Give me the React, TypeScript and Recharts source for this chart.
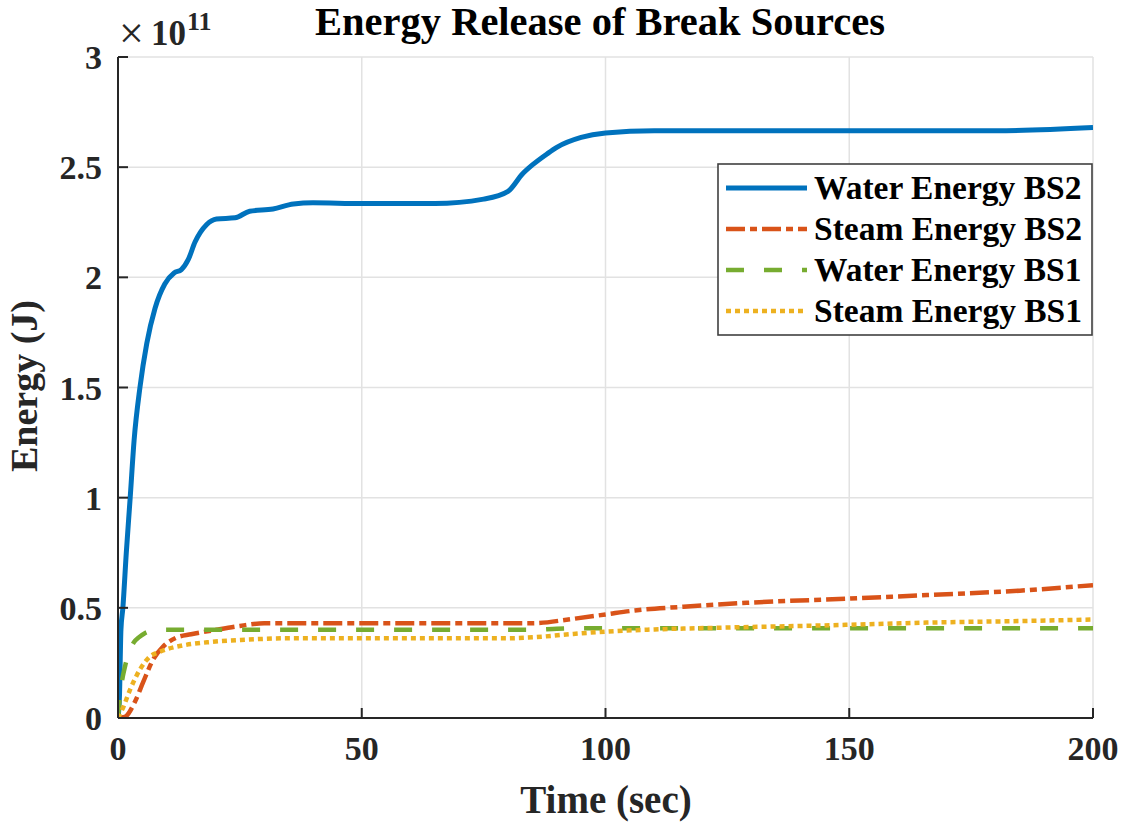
import React from 'react';
import { LineChart, Line, XAxis, YAxis, CartesianGrid, Legend } from 'recharts';

const FONT = '"Liberation Serif", "Times New Roman", Times, serif';
const INK = '#262626';

// Time (sec) and energy (x 1e11 J) for each series
const waterBS2Time = [0, 0.3, 0.6, 1, 1.7, 2.5, 3.3, 4.5, 5.9, 7.6, 9.6, 11.5, 13, 14.4, 15.8, 18.2, 20.2, 24, 27, 31.8, 36, 40, 50, 65, 75, 80, 83, 85, 88, 90, 95, 100, 110, 180, 200];
const waterBS2Energy = [0, 0.1, 0.4, 0.5, 0.75, 1.0, 1.26, 1.5, 1.7, 1.86, 1.97, 2.02, 2.035, 2.08, 2.16, 2.24, 2.265, 2.27, 2.3, 2.31, 2.333, 2.338, 2.335, 2.335, 2.355, 2.39, 2.47, 2.51, 2.56, 2.59, 2.635, 2.655, 2.665, 2.665, 2.68];

const steamBS2Time = [0, 1.4, 3.5, 5.2, 7.2, 9.3, 12, 15, 20, 25, 30, 85, 93, 100, 106, 116, 129, 150, 166, 185, 200];
const steamBS2Energy = [0, 0.005, 0.075, 0.165, 0.265, 0.325, 0.365, 0.38, 0.4, 0.418, 0.43, 0.43, 0.449, 0.47, 0.488, 0.505, 0.523, 0.542, 0.558, 0.578, 0.603];

const waterBS1Time = [0, 0.5, 1, 1.5, 2.5, 3.3, 4.2, 5.5, 7.6, 10, 85, 90, 95, 200];
const waterBS1Energy = [0, 0.12, 0.19, 0.24, 0.31, 0.345, 0.365, 0.385, 0.398, 0.4, 0.4, 0.405, 0.407, 0.407];

const steamBS1Time = [0, 1.1, 2.5, 4.5, 6.6, 8.5, 10, 13, 19, 26, 35, 80, 85, 93, 100, 110, 124, 148, 166, 185, 200];
const steamBS1Energy = [0, 0.05, 0.13, 0.22, 0.28, 0.3, 0.312, 0.328, 0.345, 0.355, 0.362, 0.362, 0.366, 0.381, 0.392, 0.402, 0.41, 0.422, 0.433, 0.44, 0.447];

const seriesNames = ['Water Energy BS2', 'Steam Energy BS2', 'Water Energy BS1', 'Steam Energy BS1'];
const seriesColors = ['#0072BD', '#D95319', '#77AC30', '#EDB120'];
const seriesDashes = ['', '19 5 7 5', '18 20', '5 4'];
const seriesWidths = [5, 4.5, 4.5, 4.5];

const xTicks = [0, 50, 100, 150, 200];
const yTicks = [0, 0.5, 1, 1.5, 2, 2.5, 3];
const yTickLabels = ['0', '0.5', '1', '1.5', '2', '2.5', '3'];

const titleText = 'Energy Release of Break Sources';
const xLabelText = 'Time (sec)';
const yLabelText = 'Energy (J)';

const toRows = (t: number[], v: number[]) => t.map((x, i) => ({ t: x, e: v[i] }));
const seriesData = [
  toRows(waterBS2Time, waterBS2Energy),
  toRows(steamBS2Time, steamBS2Energy),
  toRows(waterBS1Time, waterBS1Energy),
  toRows(steamBS1Time, steamBS1Energy),
];

const BottomTick = (props: any) => {
  const { x, y, payload } = props;
  return (
    <g>
      <line x1={x} x2={x} y1={y} y2={y - 10} stroke={INK} strokeWidth={2} />
      <text x={x} y={y + 42} textAnchor="middle" fontFamily={FONT} fontWeight="bold" fontSize={34} fill={INK}>
        {payload.value}
      </text>
    </g>
  );
};

const LeftTick = (props: any) => {
  const { x, y, payload } = props;
  const idx = yTicks.indexOf(payload.value);
  return (
    <g>
      <line x1={x} x2={x + 10} y1={y} y2={y} stroke={INK} strokeWidth={2} />
      <text x={x - 16} y={y + 12} textAnchor="end" fontFamily={FONT} fontWeight="bold" fontSize={34} fill={INK}>
        {idx >= 0 ? yTickLabels[idx] : payload.value}
      </text>
    </g>
  );
};

const TopTick = (props: any) => {
  const { x, y } = props;
  return <line x1={x} x2={x} y1={y} y2={y + 10} stroke={INK} strokeWidth={2} />;
};

const RightTick = (props: any) => {
  const { x, y } = props;
  return <line x1={x} x2={x - 10} y1={y} y2={y} stroke={INK} strokeWidth={2} />;
};

const LegendBox = (props: any) => {
  const payload = [...(props.payload || [])].sort(
    (a: any, b: any) => seriesNames.indexOf(a.value) - seriesNames.indexOf(b.value)
  );
  return (
    <svg width={376} height={173} style={{ display: 'block' }}>
      <rect x={1} y={1} width={374} height={171} fill="#fff" stroke="#404040" strokeWidth={1.6} />
      {payload.map((item: any, i: number) => {
        const k = seriesNames.indexOf(item.value);
        const cy = 25 + i * 41;
        return (
          <g key={item.value}>
            <line x1={9} x2={90} y1={cy} y2={cy} stroke={seriesColors[k]} strokeWidth={seriesWidths[k]} strokeDasharray={seriesDashes[k] || undefined} />
            <text x={97} y={cy + 11} fontFamily={FONT} fontWeight="bold" fontSize={33.5} fill="#000">
              {item.value}
            </text>
          </g>
        );
      })}
    </svg>
  );
};

export default function App() {
  return (
    <div style={{ position: 'absolute', left: 0, top: 0, width: 1126, height: 823, background: '#fff' }}>
      <LineChart width={1126} height={823} margin={{ top: 57, right: 33, bottom: 0, left: 0 }}>
        <CartesianGrid stroke="#e2e2e2" strokeWidth={1.5} horizontalValues={yTicks} verticalValues={xTicks} />
        <XAxis
          xAxisId={0}
          type="number"
          dataKey="t"
          domain={[0, 200]}
          ticks={xTicks}
          interval={0}
          allowDataOverflow
          height={105}
          tickSize={0}
          tickMargin={0}
          tickLine={false}
          tick={<BottomTick />}
          axisLine={{ stroke: INK, strokeWidth: 2 }}
        />
        <XAxis
          xAxisId="top"
          orientation="top"
          type="number"
          dataKey="t"
          domain={[0, 200]}
          ticks={xTicks}
          interval={0}
          allowDataOverflow
          height={0}
          tickSize={0}
          tickMargin={0}
          tickLine={false}
          tick={<TopTick />}
          axisLine={{ stroke: INK, strokeWidth: 2 }}
        />
        <YAxis
          yAxisId={0}
          type="number"
          domain={[0, 3]}
          ticks={yTicks}
          interval={0}
          allowDataOverflow
          width={118}
          tickSize={0}
          tickMargin={0}
          tickLine={false}
          tick={<LeftTick />}
          axisLine={{ stroke: INK, strokeWidth: 2 }}
        />
        <YAxis
          yAxisId="right"
          orientation="right"
          type="number"
          domain={[0, 3]}
          ticks={yTicks}
          interval={0}
          allowDataOverflow
          width={0}
          tickSize={0}
          tickMargin={0}
          tickLine={false}
          tick={<RightTick />}
          axisLine={{ stroke: INK, strokeWidth: 2 }}
        />
        {seriesNames.map((name, i) => (
          <Line
            key={name}
            name={name}
            data={seriesData[i]}
            dataKey="e"
            xAxisId={0}
            yAxisId={0}
            type="monotone"
            stroke={seriesColors[i]}
            strokeWidth={seriesWidths[i]}
            strokeDasharray={seriesDashes[i] || undefined}
            dot={false}
            activeDot={false}
            isAnimationActive={false}
          />
        ))}
        <Legend
          layout="vertical"
          align="center"
          verticalAlign="middle"
          itemSorter={null as any}
          content={<LegendBox />}
          wrapperStyle={{ position: 'absolute', left: 717, top: 163, width: 376, height: 173 }}
        />
      </LineChart>
      <svg width={1126} height={823} style={{ position: 'absolute', left: 0, top: 0, pointerEvents: 'none' }}>
        <text x={600} y={35} textAnchor="middle" fontFamily={FONT} fontWeight="bold" fontSize={40.5} fill="#000">
          {titleText}
        </text>
        <text x={606} y={813} textAnchor="middle" fontFamily={FONT} fontWeight="bold" fontSize={39} fill={INK}>
          {xLabelText}
        </text>
        <text
          transform="translate(37, 386) rotate(-90)"
          x={0}
          y={0}
          textAnchor="middle"
          fontFamily={FONT}
          fontWeight="bold"
          fontSize={38}
          fill={INK}
        >
          {yLabelText}
        </text>
        <text x={119} y={48} fontFamily={FONT} fontSize={44} fill={INK}>
          ×
        </text>
        <text x={151} y={45} fontFamily={FONT} fontWeight="bold" fontSize={35} fill={INK}>
          10
        </text>
        <text x={187} y={30} fontFamily={FONT} fontWeight="bold" fontSize={26} fill={INK}>
          11
        </text>
      </svg>
    </div>
  );
}
